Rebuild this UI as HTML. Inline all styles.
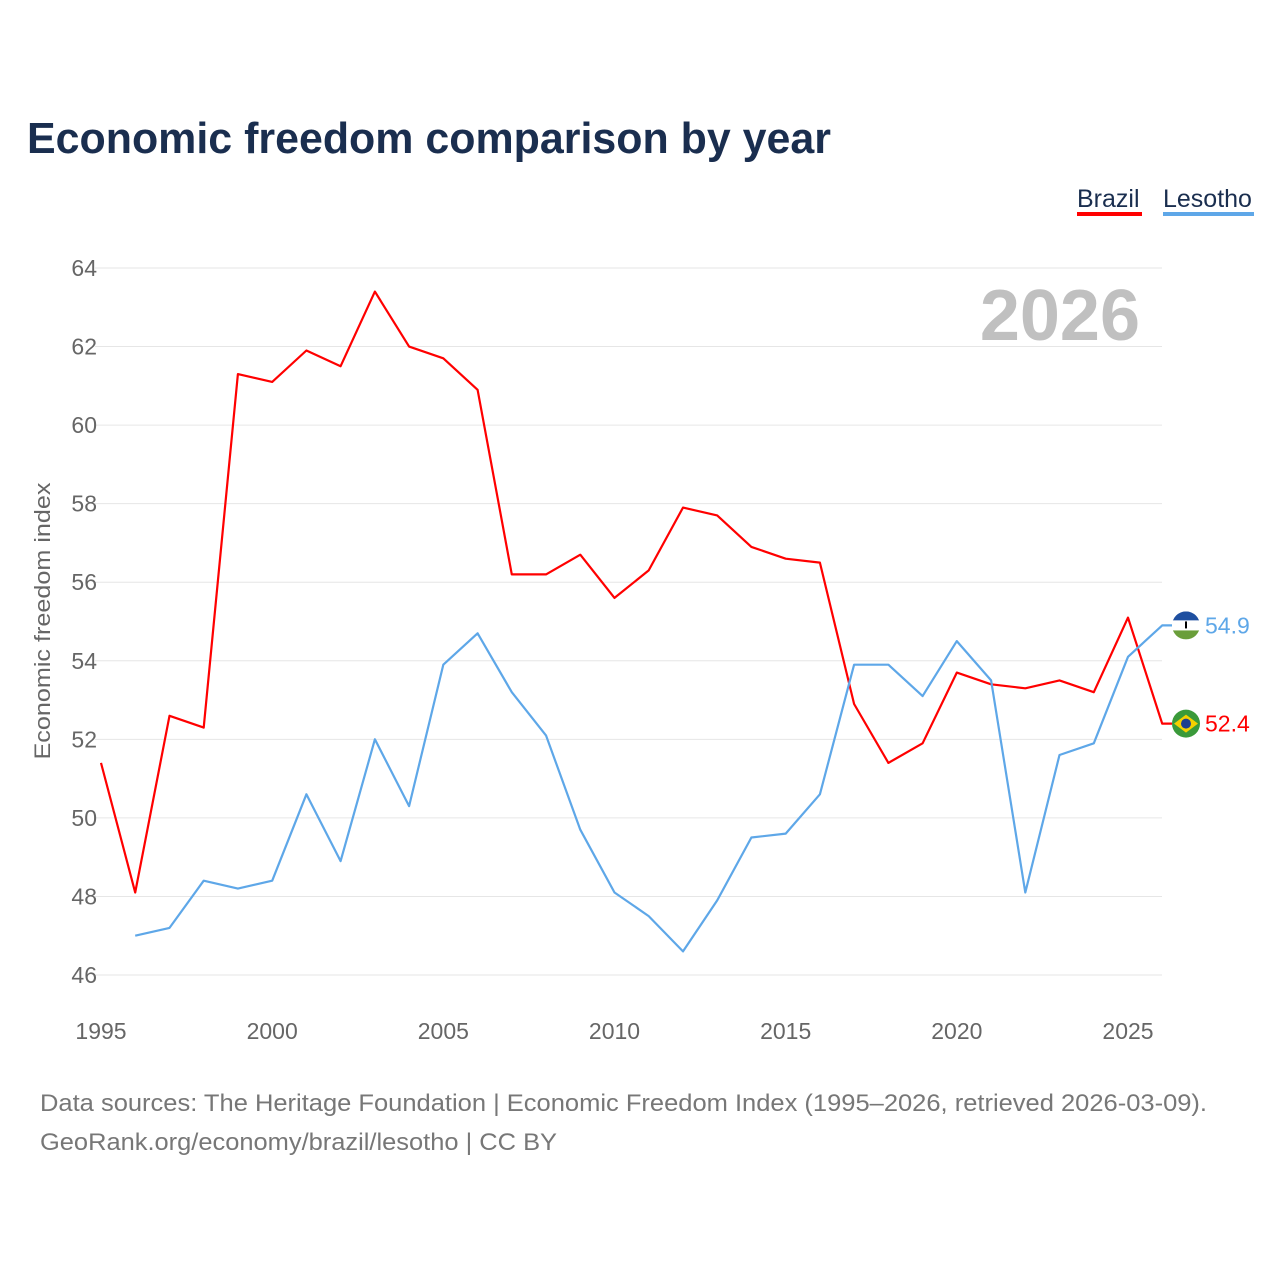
<!DOCTYPE html>
<html><head><meta charset="utf-8"><style>
html,body{margin:0;padding:0;background:#fff;}
svg{display:block;font-family:"Liberation Sans",sans-serif;}
</style></head><body>
<svg id="chart" width="1280" height="1280" viewBox="0 0 1280 1280" xmlns="http://www.w3.org/2000/svg">
<text x="27" y="153" font-size="44" font-weight="bold" fill="#1a2e4f" textLength="804" lengthAdjust="spacingAndGlyphs">Economic freedom comparison by year</text>
<g>
<g><text x="1077" y="207" font-size="25" fill="#1a2e4f">Brazil</text><rect x="1077" y="212" width="65" height="4" fill="#ff0000"/></g>
<g><text x="1163" y="207" font-size="25" fill="#1a2e4f">Lesotho</text><rect x="1163" y="212" width="91" height="4" fill="#5ea7e8"/></g>
</g>
<text x="1140" y="340" font-size="72" font-weight="bold" fill="#c0c0c0" text-anchor="end">2026</text>
<g id="grid"></g>
<g id="yticks"></g>
<g id="xticks"></g>
<text transform="translate(50,621) rotate(-90)" font-size="22" fill="#666" text-anchor="middle" textLength="277" lengthAdjust="spacingAndGlyphs">Economic freedom index</text>
<g id="series"></g>
<text x="40" y="1111" font-size="24" fill="#777" textLength="1167" lengthAdjust="spacingAndGlyphs">Data sources: The Heritage Foundation | Economic Freedom Index (1995–2026, retrieved 2026-03-09).</text>
<text x="40" y="1150" font-size="24" fill="#777" textLength="517" lengthAdjust="spacingAndGlyphs">GeoRank.org/economy/brazil/lesotho | CC BY</text>
</svg>
<script>
const years = [1995,1996,1997,1998,1999,2000,2001,2002,2003,2004,2005,2006,2007,2008,2009,2010,2011,2012,2013,2014,2015,2016,2017,2018,2019,2020,2021,2022,2023,2024,2025,2026];
const brazil = [51.4,48.1,52.6,52.3,61.3,61.1,61.9,61.5,63.4,62.0,61.7,60.9,56.2,56.2,56.7,55.6,56.3,57.9,57.7,56.9,56.6,56.5,52.9,51.4,51.9,53.7,53.4,53.3,53.5,53.2,55.1,52.4];
const lesotho = [null,47.0,47.2,48.4,48.2,48.4,50.6,48.9,52.0,50.3,53.9,54.7,53.2,52.1,49.7,48.1,47.5,46.6,47.9,49.5,49.6,50.6,53.9,53.9,53.1,54.5,53.5,48.1,51.6,51.9,54.1,54.9];
const yTicks = [46,48,50,52,54,56,58,60,62,64];
const xTicks = [1995,2000,2005,2010,2015,2020,2025];

const NS="http://www.w3.org/2000/svg";
const X = y => 101 + (y-1995)*(1128-101)/30;
const Y = v => 975 - (v-46)*(975-268)/18;
function mk(tag, attrs, parent){const e=document.createElementNS(NS,tag);for(const k in attrs)e.setAttribute(k,attrs[k]);parent.appendChild(e);return e;}
const grid=document.getElementById('grid'), yt=document.getElementById('yticks'), xt=document.getElementById('xticks'), ser=document.getElementById('series');
yTicks.forEach(v=>{
  const l=mk('line',{x1:95,x2:1162,y1:Y(v),y2:Y(v),stroke:'#e6e6e6','stroke-width':1},grid);
  
  
  const t=mk('text',{x:97,y:Y(v)+8,'font-size':23,fill:'#666','text-anchor':'end'},yt);
  t.textContent=v;
  
  
});
xTicks.forEach(v=>{
  const t=mk('text',{x:X(v),y:1039,'font-size':23,fill:'#666','text-anchor':'middle'},xt);
  t.textContent=v;
  
  
});
function drawLine(vals,color,name){
  let d='';let last=null;
  vals.forEach((v,i)=>{if(v==null)return;d+=(d?'L':'M')+X(years[i]).toFixed(1)+','+Y(v).toFixed(1);last=v;});
  d+='L1172,'+Y(last).toFixed(1);
  const p=mk('path',{d:d,fill:'none',stroke:color,'stroke-width':2.2,'stroke-linejoin':'round'},ser);
  
  
  return last;
}
const lb=drawLine(brazil,'#ff0000','brazil');
const ll=drawLine(lesotho,'#5ea7e8','lesotho');
const fb=mk('g',{},ser);


mk('circle',{cx:1186,cy:Y(lb),r:14,fill:'#3a9a3a'},fb);
mk('polygon',{points:`1174,${Y(lb)} 1186,${Y(lb)-9} 1198,${Y(lb)} 1186,${Y(lb)+9}`,fill:'#f5d000'},fb);
mk('circle',{cx:1186,cy:Y(lb),r:5,fill:'#1e3f8f'},fb);
const fl=mk('g',{},ser);


const cy=Y(ll);
mk('clipPath',{id:'lc'},fl);
mk('circle',{cx:1186,cy:cy,r:14},fl.lastChild);
const gg=mk('g',{'clip-path':'url(#lc)'},fl);
mk('rect',{x:1172,y:cy-14,width:28,height:9,fill:'#1e4fa0'},gg);
mk('rect',{x:1172,y:cy-5,width:28,height:10,fill:'#ffffff'},gg);
mk('rect',{x:1172,y:cy+5,width:28,height:9,fill:'#6a9e3a'},gg);
mk('rect',{x:1185,y:cy-4,width:2,height:7,fill:'#000'},gg);
const tb=mk('text',{x:1205,y:Y(lb)+8,'font-size':23,fill:'#ff0000'},ser);
tb.textContent=lb.toFixed(1);


const tl=mk('text',{x:1205,y:cy+8,'font-size':23,fill:'#5ea7e8'},ser);
tl.textContent=ll.toFixed(1);


</script>
</body></html>
